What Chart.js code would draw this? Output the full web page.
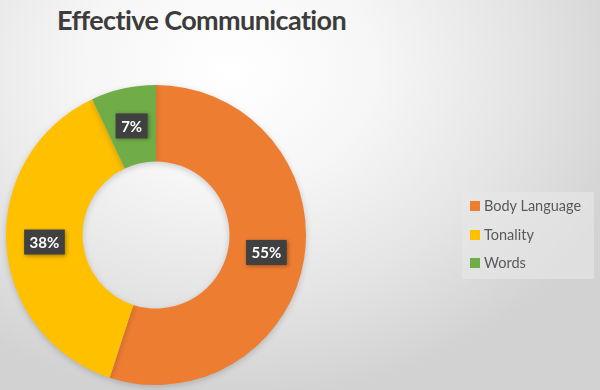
<!DOCTYPE html>
<html>
<head>
<meta charset="utf-8">
<script src="https://cdn.jsdelivr.net/npm/chart.js@4.4.1/dist/chart.umd.min.js"></script>
<style>
  html, body { margin: 0; padding: 0; }
  body {
    width: 600px; height: 390px; overflow: hidden; position: relative;
    background: radial-gradient(ellipse 420px 330px at 230px 70px, #ffffff 0%, #f6f6f6 35%, #e4e4e4 70%, #d2d2d2 100%);
    font-family: Lato, "Open Sans", sans-serif;
  }
  #title {
    position: absolute; left: 57px; top: 3px; margin: 0;
    font-size: 27px; font-weight: bold; color: #3c3c3c; letter-spacing: -0.6px;
  }
  #chart-wrap { position: absolute; left: 0; top: 0; width: 600px; height: 390px; }
  #legend {
    position: absolute; left: 462px; top: 192px; width: 132px; height: 87px;
    background: rgba(232,232,232,0.6); box-sizing: border-box; padding-top: 5px;
  }
  #legend div { height: 28.5px; line-height: 17px; font-size: 14.5px; color: #595959; position: relative; padding-left: 22px; }
  #legend span { position: absolute; left: 8px; top: 4px; width: 10px; height: 10px; }
</style>
</head>
<body>
<h1 id="title">Effective Communication</h1>
<div id="chart-wrap"><canvas id="id-canvas"></canvas></div>
<div id="legend"></div>
<script>
var categories = ['Body Language', 'Tonality', 'Words'];
var values = [55, 38, 7];
var colors = ['#ED7D31', '#FFC000', '#70AD47'];

// etiquettes de pourcentage dans des boites sombres
var labelBoxes = {
  id: 'labelBoxes',
  afterDatasetsDraw: function(chart) {
    var ctx = chart.ctx;
    var meta = chart.getDatasetMeta(0);
    var total = values.reduce(function(a, b) { return a + b; }, 0);
    ctx.save();
    ctx.font = 'bold 15px Lato, "Open Sans", sans-serif';
    ctx.textAlign = 'center';
    ctx.textBaseline = 'middle';
    meta.data.forEach(function(arc, i) {
      var p = arc.getCenterPoint();
      var txt = Math.round(values[i] / total * 100) + '%';
      var w = ctx.measureText(txt).width + 11;
      var h = 25;
      ctx.shadowColor = 'rgba(0,0,0,0.35)';
      ctx.shadowBlur = 4;
      ctx.shadowOffsetX = 1;
      ctx.shadowOffsetY = 1;
      ctx.fillStyle = '#404040';
      ctx.fillRect(p.x - w / 2, p.y - h / 2, w, h);
      ctx.shadowColor = 'transparent';
      ctx.fillStyle = '#ffffff';
      ctx.fillText(txt, p.x, p.y + 1);
    });
    ctx.restore();
  }
};

// ombre legere sous l'anneau
var ringShadow = {
  id: 'ringShadow',
  beforeDatasetsDraw: function(chart) {
    var ctx = chart.ctx;
    ctx.save();
    ctx.shadowColor = 'rgba(0,0,0,0.18)';
    ctx.shadowBlur = 6;
    ctx.shadowOffsetY = 2;
  },
  afterDatasetsDraw: function(chart) {
    chart.ctx.restore();
  }
};

(function() {
  var ctx = document.getElementById('id-canvas').getContext('2d');
  var chart = new Chart(ctx, {
    type: 'doughnut',
    data: {
      labels: categories,
      datasets: [{
        data: values,
        backgroundColor: colors,
        borderWidth: 0,
        hoverOffset: 0
      }]
    },
    options: {
      responsive: true,
      maintainAspectRatio: false,
      animation: false,
      cutout: '49%',
      layout: { padding: { left: 6, top: 85, right: 294, bottom: 5 } },
      plugins: {
        legend: { display: false },
        tooltip: { enabled: false }
      }
    },
    plugins: [ringShadow, labelBoxes]
  });

  var legend = document.getElementById('legend');
  chart.data.labels.forEach(function(lab, i) {
    var row = document.createElement('div');
    var sw = document.createElement('span');
    sw.style.background = colors[i];
    row.appendChild(sw);
    row.appendChild(document.createTextNode(lab));
    legend.appendChild(row);
  });
})();
</script>
</body>
</html>
